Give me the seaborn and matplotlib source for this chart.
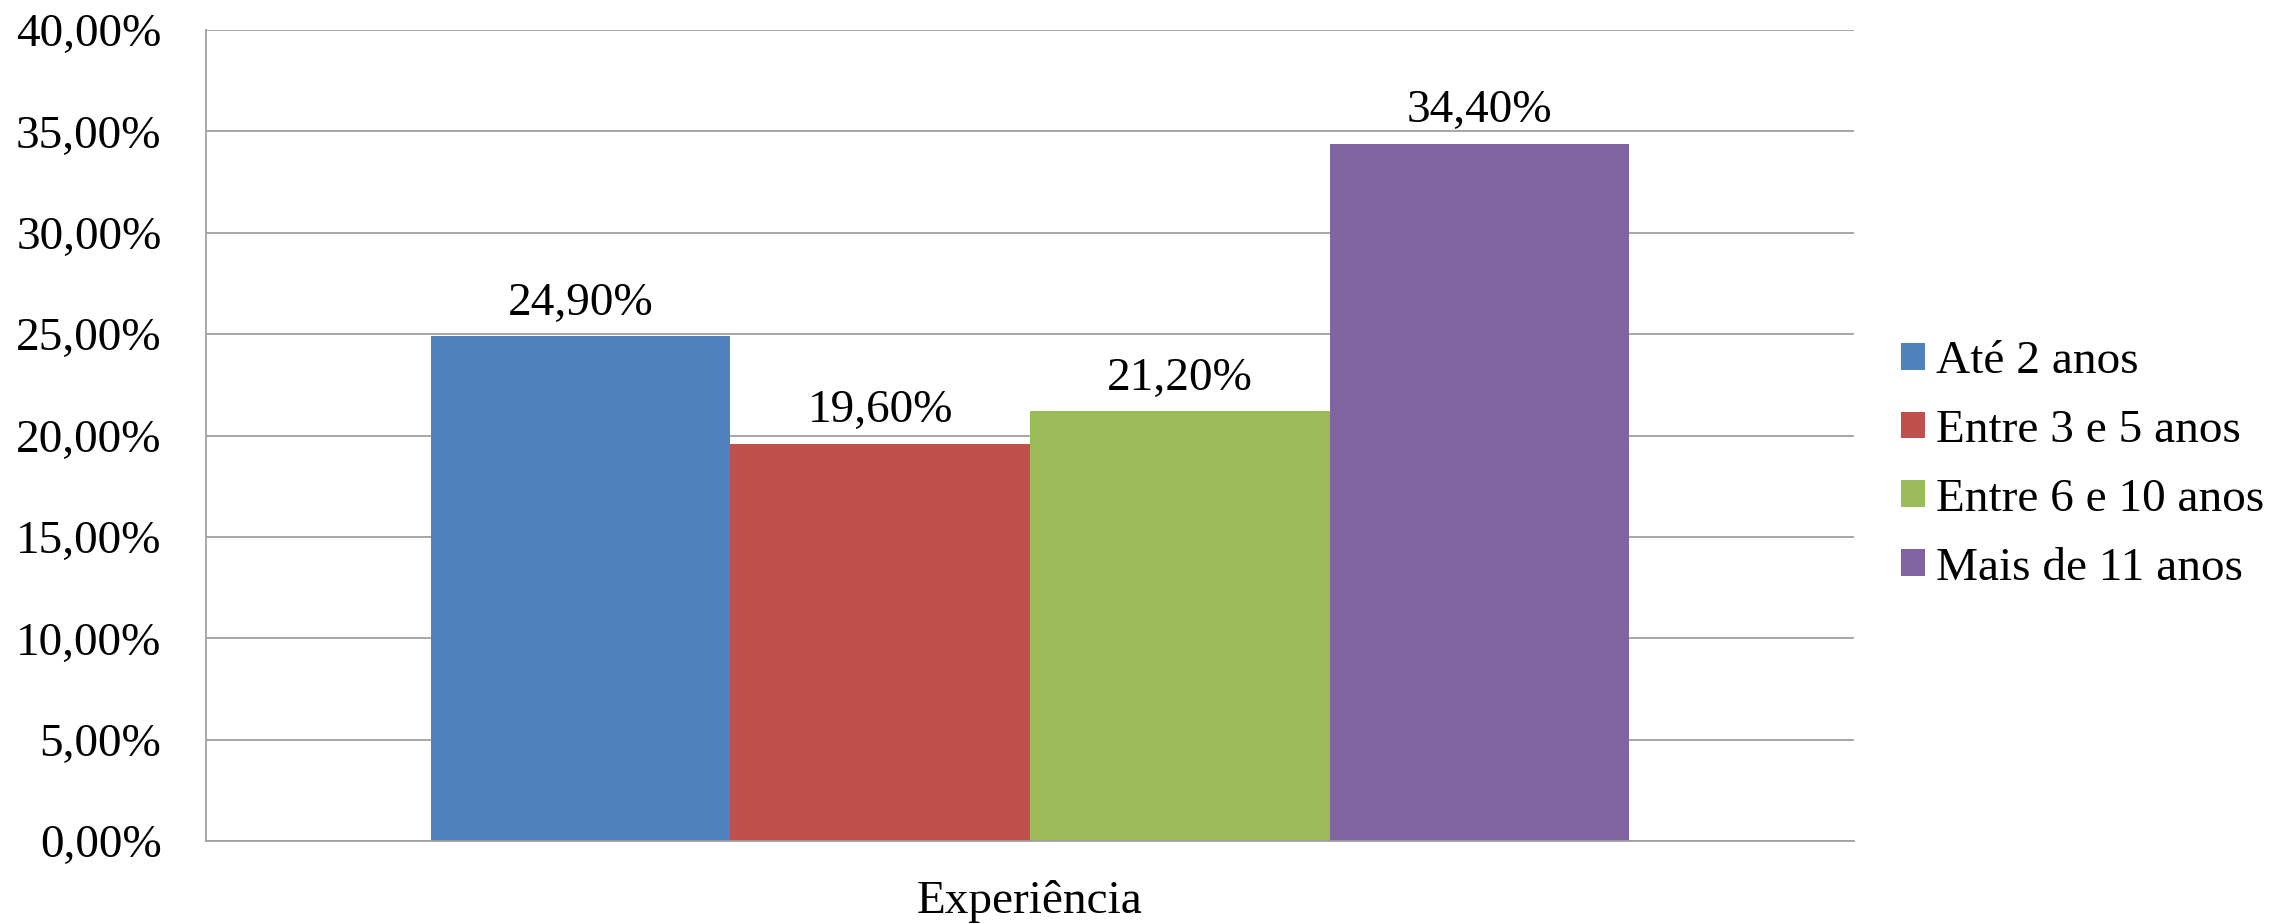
import pandas as pd
import matplotlib
matplotlib.use("Agg")
import matplotlib.pyplot as plt
from matplotlib.ticker import FuncFormatter
import seaborn as sns

categoria = ["Experiência"]
grupos = ["Até 2 anos", "Entre 3 e 5 anos", "Entre 6 e 10 anos", "Mais de 11 anos"]
valores = [24.9, 19.6, 21.2, 34.4]
cores = ["#4F81BD", "#C0504D", "#9BBB59", "#8064A2"]

df = pd.DataFrame({"cat": categoria * len(grupos), "grupo": grupos, "valor": valores})

sns.set_style("white")
plt.rcParams['font.family'] = ['Liberation Serif', 'DejaVu Serif']
plt.rcParams['text.color'] = 'black'
plt.rcParams['xtick.labelcolor'] = 'black'
plt.rcParams['ytick.labelcolor'] = 'black'

def pt_fmt(v):
    return f"{v:.2f}%".replace(".", ",")

fig = plt.figure(figsize=(22.93, 9.24), dpi=100)
ax = fig.add_axes([206/2293, 1 - 841/924, (1854-206)/2293, (841-30)/924])

sns.barplot(data=df, x="cat", y="valor", hue="grupo", hue_order=grupos,
            palette=cores, width=0.727, gap=0, saturation=1, ax=ax,
            edgecolor="none", linewidth=0)

ax.set_xlim(-0.5, 0.5)
ax.set_ylim(0, 40)
ax.set_yticks(range(0, 41, 5))
ax.yaxis.set_major_formatter(FuncFormatter(lambda v, p: pt_fmt(v)))
ax.set_xlabel("")
ax.set_ylabel("")

grid_c = "#A0A0A0"
ax.yaxis.grid(True, color=grid_c, linewidth=1.3)
ax.set_axisbelow(True)
for s in ["top", "right"]:
    ax.spines[s].set_visible(False)
for s in ["left", "bottom"]:
    ax.spines[s].set_color(grid_c)
    ax.spines[s].set_linewidth(1.3)

ax.tick_params(axis="y", length=10, width=1.3, color=grid_c, pad=22, labelsize=34)
ax.tick_params(axis="x", which="major", length=0, pad=28, labelsize=34)
ax.set_xticks([-0.5, 0.5], minor=True)
ax.tick_params(axis="x", which="minor", length=10, width=1.3, color=grid_c)

for c in ax.containers:
    ax.bar_label(c, labels=[pt_fmt(b.get_height()) for b in c], padding=8,
                 fontsize=34, color="black")

handles, labels = ax.get_legend_handles_labels()
ax.legend(handles, labels, loc="center left", bbox_to_anchor=(1901/2293, 1 - 465/924),
          bbox_transform=fig.transFigure, frameon=False, fontsize=34,
          handlelength=0.5, handleheight=0.5, handletextpad=0.25,
          labelspacing=0.56, borderpad=0, borderaxespad=0)

fig.savefig("out.png", dpi=100)
